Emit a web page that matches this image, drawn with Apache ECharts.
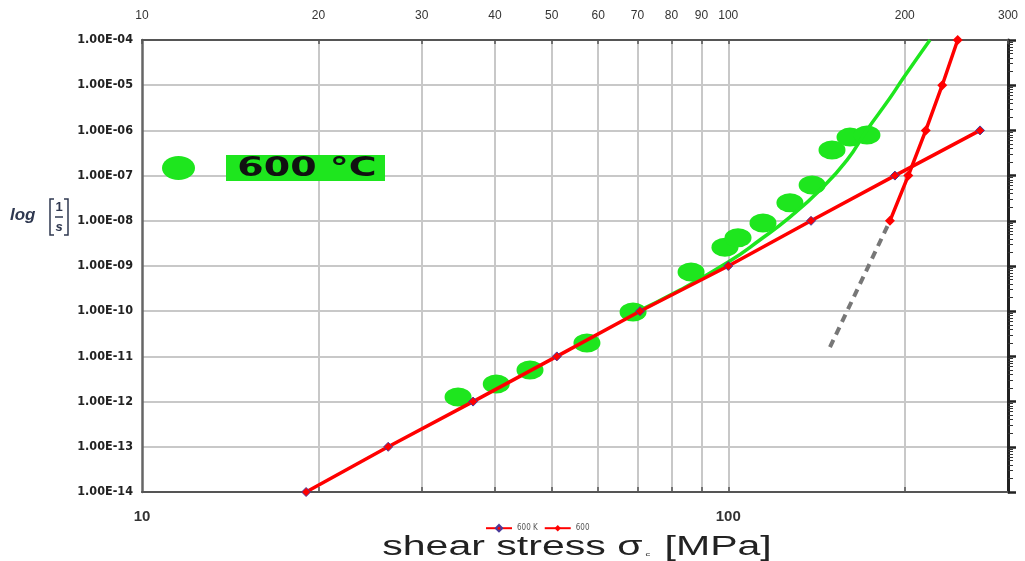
<!DOCTYPE html>
<html>
<head>
<meta charset="utf-8">
<script src="https://cdn.jsdelivr.net/npm/echarts@6/dist/echarts.min.js"></script>
<style>
html,body{margin:0;padding:0;background:#fff;}
#chart{width:1025px;height:561px;}
</style>
</head>
<body>
<div id="chart"></div>
<script>
// ---- data ----
const xTopLabels = [10, 20, 30, 40, 50, 60, 70, 80, 90, 100, 200, 300];
const xBottomLabels = [10, 100];
const xGridValues = [20, 30, 40, 50, 60, 70, 80, 90, 100, 200];
const yDecades = [1e-14, 1e-13, 1e-12, 1e-11, 1e-10, 1e-9, 1e-8, 1e-7, 1e-6, 1e-5, 1e-4];

// green measured points (600 °C)
const pts600C_x = [34.6, 40.2, 45.9, 57.4, 68.8, 86.4, 98.7, 103.9, 114.6, 127.4, 139, 150.3, 161.3, 172.4];
const pts600C_y = [1.26e-12, 2.45e-12, 5.0e-12, 1.98e-11, 9.6e-11, 7.4e-10, 2.6e-9, 4.2e-9, 8.9e-9, 2.5e-8, 6.2e-8, 3.7e-7, 7.1e-7, 7.9e-7];

// green fitted curve
const fit600C_x = [68.0, 82.7, 100, 113.2, 127.4, 143.4, 159.4, 172.4, 188.7, 198.6, 220.8];
const fit600C_y = [8.2e-11, 2.94e-10, 1.22e-9, 3.76e-9, 1.21e-8, 4.8e-8, 2.2e-7, 1.02e-6, 5.2e-6, 1.4e-5, 1e-4];

// red line "600 K"
const s600K_x = [19.05, 26.3, 36.7, 51.0, 70.7, 100, 138.4, 192.4, 268.8];
const s600K_y = [1e-14, 1e-13, 1e-12, 1e-11, 1e-10, 1e-9, 1e-8, 1e-7, 1e-6];

// red line "600"
const s600_x = [188.7, 202.8, 217.2, 231.7, 246.2];
const s600_y = [1e-8, 1e-7, 1e-6, 1e-5, 1e-4];

// grey dashed extension
const dash_x = [149.1, 188.7];
const dash_y = [1.6e-11, 1e-8];

const zip = (a, b) => a.map((v, i) => [v, b[i]]);

// minor tick values for right axis
const yMinor = [];
yDecades.slice(0, -1).forEach(d => { for (let k = 2; k <= 9; k++) yMinor.push(k * d); });

const ellipsePath = 'path://M0,50 A50,50 0 1,1 100,50 A50,50 0 1,1 0,50 Z';
const green = '#1ee61e';
const ink = '#2f3850';

function fmtE(v) {
  let s = Number(v).toExponential(2).toUpperCase();
  return s.replace(/E([+-])(\d)$/, 'E$10$2');
}

const chart = echarts.init(document.getElementById('chart'));
const option = {
  backgroundColor: '#ffffff',
  animation: false,
  grid: { left: 142, right: 17, top: 40, bottom: 69, containLabel: false, outerBoundsMode: 'none' },
  xAxis: [
    {
      type: 'log', position: 'bottom', min: 10, max: 300, logBase: 10,
      axisLine: { show: true, onZero: false, lineStyle: { color: '#555', width: 2 } },
      axisTick: { show: true, inside: true, length: 5, customValues: xGridValues, lineStyle: { color: '#555', width: 1.5 } },
      axisLabel: { show: true, customValues: xBottomLabels, margin: 17, fontSize: 15, fontWeight: 'bold', color: '#333', fontFamily: 'Liberation Sans' },
      splitLine: { show: true, lineStyle: { color: '#c8c8c8', width: 2 } }
    },
    {
      type: 'log', position: 'top', min: 10, max: 300, logBase: 10,
      axisLine: { show: true, onZero: false, lineStyle: { color: '#555', width: 2 } },
      axisTick: { show: true, inside: true, length: 4, customValues: xTopLabels, lineStyle: { color: '#555', width: 1.5 } },
      axisLabel: { show: true, customValues: xTopLabels, margin: 18, fontSize: 12, color: '#333', fontFamily: 'Liberation Sans' },
      splitLine: { show: false }
    }
  ],
  yAxis: [
    {
      type: 'log', position: 'left', min: 1e-14, max: 1e-4, logBase: 10,
      axisLine: { show: true, onZero: false, lineStyle: { color: '#666', width: 2.5 } },
      axisTick: { show: false, customValues: yDecades },
      axisLabel: { show: true, customValues: yDecades, formatter: v => fmtE(v), margin: 9, fontSize: 12.5, fontWeight: 'bold', color: '#222', fontFamily: 'DejaVu Sans Condensed' },
      splitLine: { show: true, lineStyle: { color: '#c8c8c8', width: 2 } }
    },
    {
      type: 'log', position: 'right', min: 1e-14, max: 1e-4, logBase: 10,
      axisLine: { show: true, onZero: false, lineStyle: { color: '#222', width: 3 } },
      axisTick: { show: true, inside: false, length: 8, customValues: yDecades, lineStyle: { color: '#222', width: 2.5 } },
      axisLabel: { show: false },
      splitLine: { show: false }
    },
    {
      type: 'log', position: 'right', min: 1e-14, max: 1e-4, logBase: 10,
      axisLine: { show: false },
      axisTick: { show: true, inside: false, length: 5, customValues: yMinor, lineStyle: { color: '#333', width: 1 } },
      axisLabel: { show: false },
      splitLine: { show: false }
    }
  ],
  legend: [
    {
      data: ['600 K', '600'],
      left: 480, top: 519, itemWidth: 26, itemHeight: 8, itemGap: 6,
      textStyle: { fontSize: 8, color: '#555', fontFamily: 'DejaVu Sans Condensed' },
      selectedMode: false
    }
  ],
  graphic: [
    // y-axis name: log[1/s]
    { type: 'text', left: 10, top: 207, style: { text: 'log', font: 'italic bold 17px "Liberation Sans"', fill: ink } },
    { type: 'polyline', shape: { points: [[54, 199], [50, 199], [50, 235], [54, 235]] }, style: { stroke: ink, lineWidth: 1.5, fill: null } },
    { type: 'polyline', shape: { points: [[64, 199], [68, 199], [68, 235], [64, 235]] }, style: { stroke: ink, lineWidth: 1.5, fill: null } },
    { type: 'text', x: 59, y: 207, style: { text: '1', font: 'bold 13px "Liberation Sans"', fill: ink, align: 'center', verticalAlign: 'middle' } },
    { type: 'line', shape: { x1: 55, y1: 217, x2: 63, y2: 217 }, style: { stroke: ink, lineWidth: 1.5 } },
    { type: 'text', x: 59, y: 227, style: { text: 's', font: 'italic bold 13px "Liberation Sans"', fill: ink, align: 'center', verticalAlign: 'middle' } },
    // x-axis title
    {
      type: 'text', x: 577, y: 548, scaleX: 1.52, scaleY: 1,
      style: {
        text: '{a|shear stress σ}{s|c}{a| [MPa]}',
        align: 'center', verticalAlign: 'middle',
        rich: {
          a: { fontSize: 27, fill: '#222', fontFamily: 'Liberation Sans' },
          s: { fontSize: 6, fill: '#222', fontFamily: 'Liberation Sans', padding: [13, 2, 0, 2] }
        }
      }
    },
    // in-plot key for the green points
    { type: 'ellipse', shape: { cx: 178.5, cy: 168, rx: 16.5, ry: 12 }, style: { fill: green }, z: 10 },
    { type: 'rect', shape: { x: 226, y: 155, width: 159, height: 26 }, style: { fill: green }, z: 10 },
    { type: 'text', x: 307, y: 169, scaleX: 1.46, scaleY: 1, style: { text: '600 °C', font: 'bold 26px "DejaVu Sans"', fill: '#111', align: 'center', verticalAlign: 'middle' }, z: 11 }
  ],
  series: [
    {
      name: '600 °C', type: 'scatter', xAxisIndex: 0, yAxisIndex: 0,
      symbol: ellipsePath, symbolSize: [27, 19],
      itemStyle: { color: green, opacity: 1 },
      data: zip(pts600C_x, pts600C_y), z: 2
    },
    {
      name: 'fit', type: 'line', xAxisIndex: 0, yAxisIndex: 0, smooth: 0.5,
      showSymbol: false, lineStyle: { color: green, width: 3.5 },
      data: zip(fit600C_x, fit600C_y), z: 3
    },
    {
      name: 'trend', type: 'line', xAxisIndex: 0, yAxisIndex: 0,
      showSymbol: false, lineStyle: { color: '#777', width: 4, type: [8, 6] },
      data: zip(dash_x, dash_y), z: 3
    },
    {
      name: '600 K', type: 'line', xAxisIndex: 0, yAxisIndex: 0,
      symbol: 'diamond', symbolSize: 9,
      itemStyle: { color: '#ff0000', borderColor: '#4a3a9a', borderWidth: 1 },
      lineStyle: { color: '#ff0000', width: 3.5 },
      data: zip(s600K_x, s600K_y), z: 4
    },
    {
      name: '600', type: 'line', xAxisIndex: 0, yAxisIndex: 0,
      symbol: 'diamond', symbolSize: 10,
      itemStyle: { color: '#ff0000' },
      lineStyle: { color: '#ff0000', width: 3.5 },
      data: zip(s600_x, s600_y), z: 5
    }
  ]
};
chart.setOption(option);
</script>
</body>
</html>
